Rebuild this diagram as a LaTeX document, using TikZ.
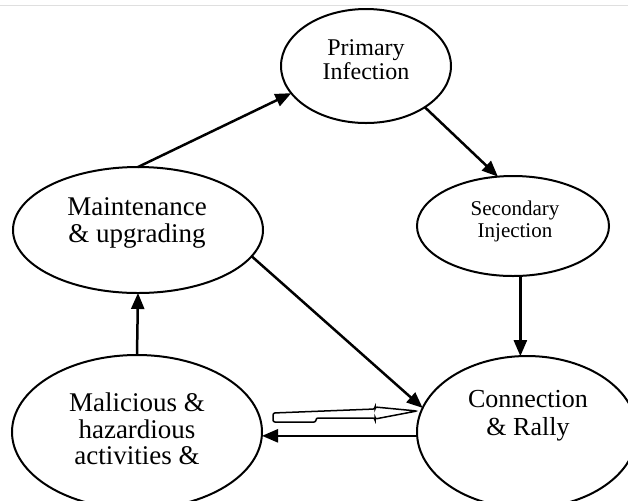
\documentclass[tikz,border=0pt]{standalone}
\usepackage{fontspec}
\setmainfont{Liberation Serif}
\usetikzlibrary{arrows.meta, shapes.geometric}

\tikzset{
  stage/.style={draw, ellipse, line width=1pt, inner sep=0pt, outer sep=0pt},
  stagetext/.style={align=center, inner sep=0pt},
  flow/.style={->, line width=1.25pt},
}

\begin{document}
\begin{tikzpicture}[x=0.5pt, y=-0.5pt, >={Triangle[length=8pt, width=6.5pt]}]

\clip (0,0) rectangle (628,500);
\draw[gray!25, line width=0.4pt] (0,5) -- (628,5);

% the five stages
\foreach \nm/\pos/\w/\h in {
  prim/{(366,66)}/85pt/57pt,
  sec/{(513,226)}/96pt/50pt,
  maint/{(138,230)}/125pt/63pt,
  malic/{(137,432)}/125pt/77pt,
  conn/{(527,432)}/110pt/76pt
}{
  \node[stage, minimum width=\w, minimum height=\h] (\nm) at \pos {};
}

\node[stagetext, font=\fontsize{12}{12}\selectfont] (prim-txt) at (366,60) {Primary\\Infection};
\node[stagetext, font=\fontsize{10.5}{11}\selectfont] (sec-txt) at (515,221) {Secondary\\Injection};
\node[stagetext, font=\fontsize{13.5}{13.5}\selectfont] (maint-txt) at (137,223) {Maintenance\\\& upgrading};
\node[stagetext, font=\fontsize{13.5}{13.25}\selectfont] (malic-txt) at (137,429) {Malicious \&\\hazardious\\activities \&};
\node[stagetext, font=\fontsize{13}{14}\selectfont] (conn-txt) at (528,416) {Connection\\\& Rally};

% connectors
\draw[flow] (maint.north) -- (prim.200);
\draw[flow] (prim.-35) -- (sec.107);
\draw[flow] (sec.south -| conn.95) -- (conn.95);
\draw[flow] (maint.-13) -- (conn.167);
\draw[flow] (malic.north) -- (maint.south);
\draw[flow] (conn.182) -- (conn.182 -| malic.east);

% hollow arrow
\draw[line width=0.75pt, fill=white, rounded corners=1pt]
  (273,413) -- (375,409) -- (375,407) -- (417,411) -- (375,419)
  -- (375,418) -- (316,418) -- (316,422) -- (273,422) -- cycle;

\end{tikzpicture}
\end{document}
